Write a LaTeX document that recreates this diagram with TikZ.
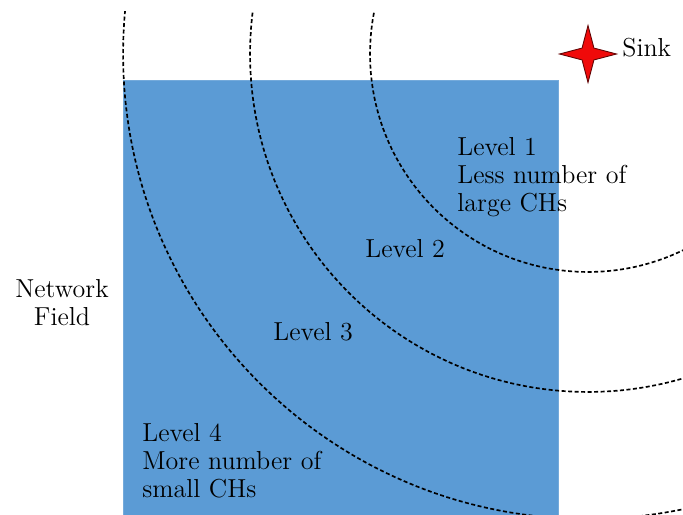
\documentclass[tikz,border=0pt]{standalone}
\usepackage{xcolor}
\usepackage{tikz}
\usetikzlibrary{shapes.geometric}
\definecolor{fieldblue}{RGB}{91,155,213}
\definecolor{sinkred}{RGB}{240,10,10}
\tikzset{
  field/.style={fill=fieldblue, draw=fieldblue!85!white, line width=0.4pt},
  ring/.style={dash pattern=on 0.08cm off 0.05cm, line width=0.95pt, black},
  sinkstar/.style={star, star points=4, star point ratio=3.4, minimum size=1.14cm,
                   inner sep=0pt, fill=sinkred, draw=black!60!sinkred, line width=0.5pt},
  lbl/.style={font=\fontsize{14.8}{15.9}\selectfont, inner sep=0pt, anchor=base west, align=left}
}

\begin{document}
\begin{tikzpicture}[x=0.02cm, y=-0.02cm]
\useasboundingbox (0,0) rectangle (683,514);
\fill[white] (0,0) rectangle (683,514);
\draw[field] (123,80) rectangle (558,520);
\node[sinkstar] (sink) at (588,54) {};
\node[lbl] (sinklbl) at (622,56) {Sink};
\begin{scope}
  \clip (0,11) rectangle (683,514);
  \foreach \r in {4.36,6.76,9.3}
    \draw[ring] (sink.center) circle[radius=\r cm];
\end{scope}
\node[lbl] (lev1) at (457,211) {Level 1\\Less number of\\large CHs};
\node[lbl] (lev2) at (365,257) {Level 2};
\node[lbl] (lev3) at (273,340) {Level 3};
\node[lbl] (lev4) at (142,497) {Level 4\\More number of\\small CHs};
\node[lbl, anchor=base, align=center] (netfield) at (62,325) {Network\\Field};
\end{tikzpicture}
\end{document}
